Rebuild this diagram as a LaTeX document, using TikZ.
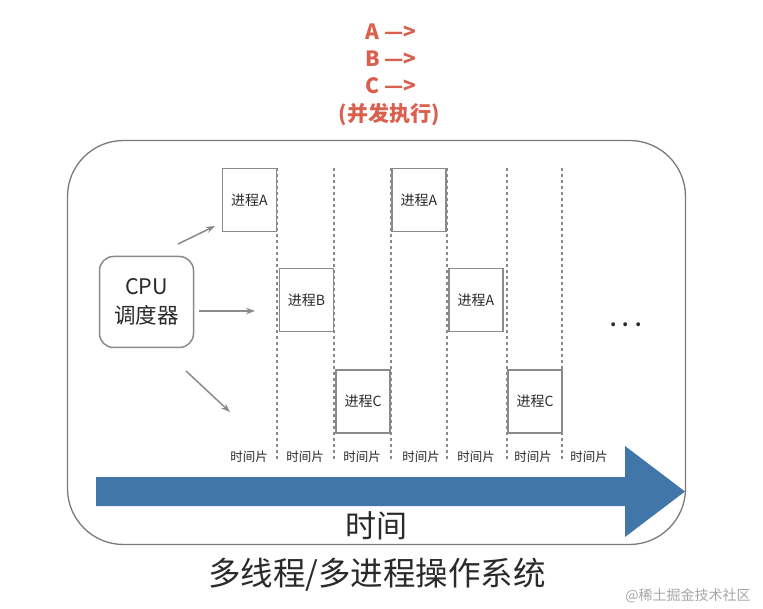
\documentclass[tikz,border=0pt]{standalone}
\usepackage{fontspec}
\usetikzlibrary{arrows.meta}
\setmainfont{Noto Sans CJK SC}
\definecolor{boxgray}{HTML}{8A8A8A}
\definecolor{framegray}{HTML}{7A7A7A}
\definecolor{txt}{HTML}{2A2A2A}
\definecolor{redtxt}{HTML}{D9604E}
\definecolor{bluearrow}{HTML}{4077A8}
\begin{document}
\begin{tikzpicture}[x=1pt,y=-1pt,
  proc/.style={draw=boxgray,line width=1.5pt,minimum width=54pt,minimum height=63pt,inner sep=0pt,text=txt,font=\fontsize{14}{14}\selectfont},
  cpubox/.style={draw=boxgray,line width=1.5pt,rounded corners=14pt,minimum width=94pt,minimum height=91pt,inner sep=0pt,text=txt,align=center,font=\fontsize{21.5}{29}\selectfont},
  frame/.style={draw=framegray,line width=1.3pt,rounded corners=56pt,minimum width=618pt,minimum height=404pt,inner sep=0pt},
  slice/.style={draw=boxgray,line width=1.2pt,dash pattern=on 3pt off 3pt},
  garrow/.style={draw=boxgray,line width=1.5pt,-{Stealth[length=9pt,width=6.5pt]}},
  redline/.style={text=redtxt,font=\bfseries\fontsize{21}{21}\selectfont},
  slicelabel/.style={text=txt,font=\fontsize{12.5}{12.5}\selectfont},
]
\useasboundingbox (0,0) rectangle (763,609);
% red text
\node[redline] (la) at (391,32) {A —>};
\node[redline] (lb) at (391,59) {B —>};
\node[redline] (lc) at (391,86) {C —>};
\node[redline] (lp) at (389,115) {(并发执行)};
% frame
\node[frame] (os) at (376.5,342.5) {};
% dashed slice borders
\foreach \x [count=\i] in {277,334,391,447,507,562}{
  \coordinate (t\i) at (\x,168);
  \coordinate (b\i) at (\x,461);
  \draw[slice] (t\i) -- (b\i);
}
% process boxes
\node[proc,fill=white] (pa1) at (249.5,200) {进程A};
\node[proc,fill=white] (pb)  at (306.5,300) {进程B};
\node[proc,fill=white] (pc1) at (363,401.5) {进程C};
\node[proc,fill=white] (pa2) at (419,200) {进程A};
\node[proc,fill=white] (pa3) at (476,300) {进程A};
\node[proc,fill=white] (pc2) at (535,401.5) {进程C};
% redraw dashes over box edges that coincide
\foreach \i in {1,2,3,4,5,6}{\draw[slice] (t\i) -- (b\i);}
% cpu
\node[cpubox] (cpu) at (146.5,302) {CPU\\调度器};
\coordinate (s1) at (178,244); \coordinate (e1) at (215,226);
\coordinate (s2) at (199,311); \coordinate (e2) at (255,311);
\coordinate (s3) at (186,371); \coordinate (e3) at (230,412);
\draw[garrow] (s1) -- (e1);
\draw[garrow] (s2) -- (e2);
\draw[garrow] (s3) -- (e3);
% dots
\node[text=txt,font=\bfseries\fontsize{18}{18}\selectfont] (dots) at (626,325) {.\,\,.\,\,.};
% slice labels
\foreach \x [count=\i] in {249,305,362,421,476,533,589}{
  \node[slicelabel] (sl\i) at (\x,457) {时间片};
}
% big blue arrow
\fill[bluearrow] (96,477) -- (625,477) -- (625,446) -- (685,491.5) -- (625,537) -- (625,506) -- (96,506) -- cycle;
\node[text=txt,font=\fontsize{31}{31}\selectfont] (time) at (376,526) {时间};
\node[text=txt,font=\fontsize{32.5}{32.5}\selectfont] (title) at (377,575) {多线程/多进程操作系统};
\node[text=black!35,font=\fontsize{14}{14}\selectfont] (wm) at (688,596) {@稀土掘金技术社区};
\end{tikzpicture}
\end{document}
